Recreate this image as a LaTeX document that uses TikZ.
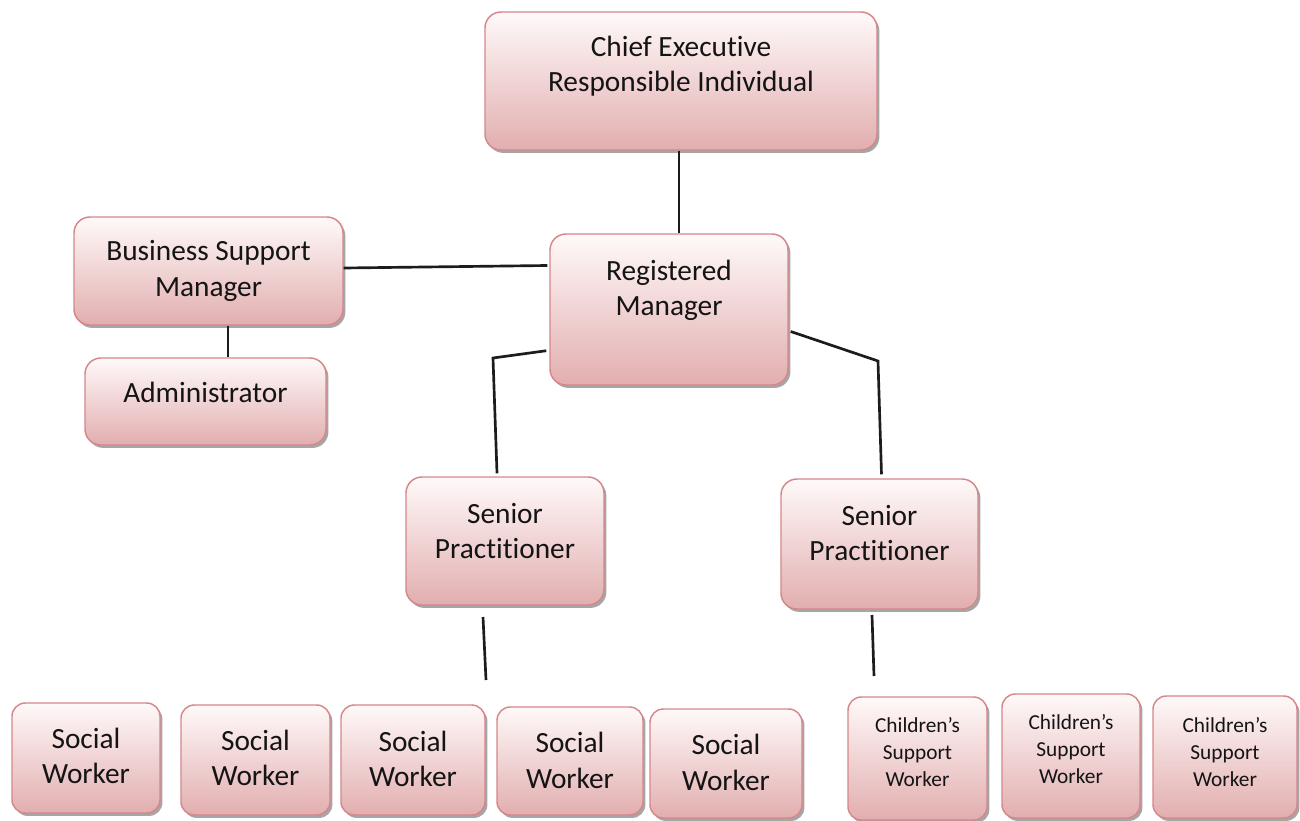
\documentclass[tikz,border=0pt]{standalone}
\usepackage{fontspec}
\setmainfont{Carlito}[Ligatures=NoCommon]
\usetikzlibrary{shadows,calc}
\definecolor{boxtop}{HTML}{FFF9F9}
\definecolor{boxbot}{HTML}{E2AEAF}
\definecolor{boxline}{HTML}{D6878A}
\definecolor{linkcol}{HTML}{1C1C1C}
\definecolor{txtcol}{HTML}{141414}
\tikzset{
  orgbox/.style={draw=boxline, line width=1.1pt, top color=boxtop, bottom color=boxbot,
    rounded corners=12pt, inner sep=0pt,
    drop shadow={shadow xshift=1.8pt, shadow yshift=-2.2pt, fill=black, opacity=0.35}},
  bigtxt/.style={font=\fontsize{22}{26.5}\selectfont, align=center, text=txtcol, inner sep=0pt},
  smalltxt/.style={font=\fontsize{16}{20}\selectfont, align=center, text=txtcol, inner sep=0pt},
  link/.style={draw=linkcol, line width=2pt}
}
\begin{document}
\begin{tikzpicture}[x=0.75pt,y=-0.75pt]
\useasboundingbox[fill=white] (0,0) rectangle (1300,821);
% boxes
\node[orgbox, minimum width=392*0.75pt, minimum height=138*0.75pt] (ce) at (681,81) {};
\node[orgbox, minimum width=269*0.75pt, minimum height=108*0.75pt] (bsm) at (208.5,271) {};
\node[orgbox, minimum width=241*0.75pt, minimum height=87*0.75pt] (adm) at (205.5,401.5) {};
\node[orgbox, minimum width=238*0.75pt, minimum height=151*0.75pt] (rm) at (669,309.5) {};
\node[orgbox, minimum width=198*0.75pt, minimum height=128*0.75pt] (sp1) at (505,541) {};
\node[orgbox, minimum width=197*0.75pt, minimum height=130*0.75pt] (sp2) at (879.5,544) {};
\node[orgbox, minimum width=148*0.75pt, minimum height=110*0.75pt, rounded corners=10pt] (sw1) at (86,758) {};
\node[orgbox, minimum width=149*0.75pt, minimum height=110*0.75pt, rounded corners=10pt] (sw2) at (255.5,760) {};
\node[orgbox, minimum width=144*0.75pt, minimum height=110*0.75pt, rounded corners=10pt] (sw3) at (413,760) {};
\node[orgbox, minimum width=146*0.75pt, minimum height=108*0.75pt, rounded corners=10pt] (sw4) at (570,761) {};
\node[orgbox, minimum width=152*0.75pt, minimum height=109*0.75pt, rounded corners=10pt] (sw5) at (726,763.5) {};
\node[orgbox, minimum width=139*0.75pt, minimum height=123*0.75pt, rounded corners=10pt] (csw1) at (917.5,758.5) {};
\node[orgbox, minimum width=138*0.75pt, minimum height=124*0.75pt, rounded corners=10pt] (csw2) at (1071,756) {};
\node[orgbox, minimum width=144*0.75pt, minimum height=122*0.75pt, rounded corners=10pt] (csw3) at (1225,757) {};
% texts
\node[bigtxt] (tce) at (681,66) {Chief Executive\\Responsible Individual};
\node[bigtxt] (tbsm) at (208.5,271) {Business Support\\Manager};
\node[bigtxt] (tadm) at (205.5,392) {Administrator};
\node[bigtxt] (trm) at (669,290) {Registered\\Manager};
\node[bigtxt] (tsp1) at (505,531) {Senior\\Practitioner};
\node[bigtxt] (tsp2) at (879.5,533) {Senior\\Practitioner};
\node[bigtxt] (tsw1) at (86,756) {Social\\Worker};
\node[bigtxt] (tsw2) at (255.5,758) {Social\\Worker};
\node[bigtxt] (tsw3) at (413,759) {Social\\Worker};
\node[bigtxt] (tsw4) at (570,760.5) {Social\\Worker};
\node[bigtxt] (tsw5) at (726,762.5) {Social\\Worker};
\node[smalltxt] (tcsw1) at (917.5,752) {Children’s\\Support\\Worker};
\node[smalltxt] (tcsw2) at (1071,749) {Children’s\\Support\\Worker};
\node[smalltxt] (tcsw3) at (1225,752) {Children’s\\Support\\Worker};
% connector points
\coordinate (ceb) at ($(ce.south)+(-2,0)$);
\coordinate (rml) at ($(rm.south west)+(-3,-35)$);
\coordinate (bendl) at (493,358);
\coordinate (sp1t) at ($(sp1.north)+(-8,-3)$);
\coordinate (rmr) at ($(rm.east)+(2,22)$);
\coordinate (bendr) at (878,361);
\coordinate (sp2t) at ($(sp2.north)+(2,-4)$);
\coordinate (bsmb) at ($(bsm.south)+(19.5,0)$);
\coordinate (bsmr) at ($(bsm.east)+(0,-3)$);
\coordinate (rmlw) at ($(rm.west)+(-2,-44)$);
\coordinate (sp1a) at (483,617);
\coordinate (sp1b) at (486,680);
\coordinate (sp2a) at (872,615);
\coordinate (sp2b) at (874,676);
% connectors
\draw[link] (ceb) -- (ceb |- rm.north);
\draw[link] (bsmr) -- (rmlw);
\draw[link] (bsmb) -- (bsmb |- adm.north);
\draw[link] (rml) -- (bendl) -- (sp1t);
\draw[link] (rmr) -- (bendr) -- (sp2t);
\draw[link] (sp1a) -- (sp1b);
\draw[link] (sp2a) -- (sp2b);
\end{tikzpicture}
\end{document}
